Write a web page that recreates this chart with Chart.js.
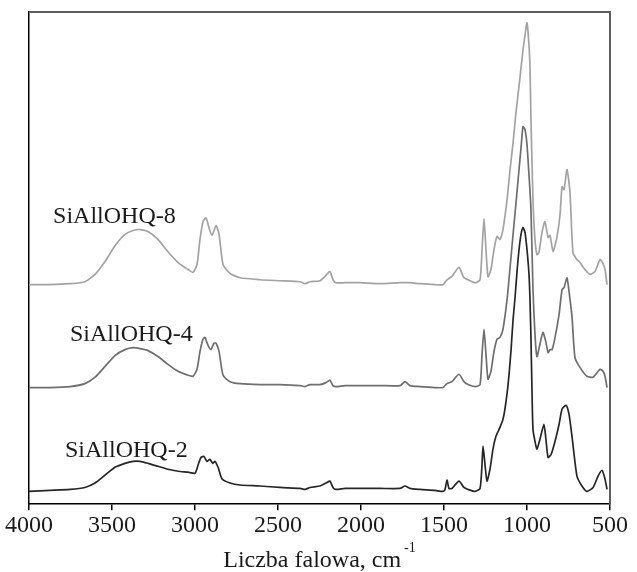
<!DOCTYPE html>
<html>
<head>
<meta charset="utf-8">
<script src="https://cdn.jsdelivr.net/npm/chart.js@4"></script>
<style>
  html, body { margin: 0; padding: 0; background: #fff; }
  #wrap { width: 637px; height: 572px; }
</style>
</head>
<body>
<div id="wrap"><canvas id="chart" width="637" height="572"></canvas></div>
<script>
// FTIR spectra, wavenumber (cm-1) vs absorbance (arbitrary, stacked)

const seriesNames = ['SiAllOHQ-8', 'SiAllOHQ-4', 'SiAllOHQ-2'];
const seriesColors = ['#a3a3a3', '#6e6e6e', '#262626'];

const wn8 = [4000, 3873, 3753, 3663, 3602, 3542, 3482, 3422, 3373, 3331, 3283, 3223, 3163, 3102, 3042, 3012,
    2988, 2970, 2952, 2934, 2916, 2898, 2873, 2855, 2831, 2789, 2729, 2608, 2488, 2367, 2337, 2307, 2247, 2211,
    2187, 2169, 2151, 2096, 2006, 1886, 1765, 1705, 1645, 1554, 1506, 1482, 1452, 1410, 1380, 1355, 1313, 1283,
    1271, 1259, 1247, 1235, 1217, 1199, 1181, 1163, 1145, 1120, 1102, 1084, 1066, 1054, 1042, 1024, 1012, 1000,
    988, 982, 976, 964, 952, 940, 928, 910, 892, 873, 861, 843, 819, 801, 789, 777, 759, 741, 723, 699, 681, 651,
    620, 590, 560, 542, 530, 518];
const abs8 = [0.446, 0.446, 0.448, 0.452, 0.467, 0.493, 0.525, 0.548, 0.556, 0.558, 0.554, 0.538, 0.513, 0.491, 0.477, 0.471,
    0.487, 0.538, 0.574, 0.582, 0.562, 0.546, 0.566, 0.548, 0.487, 0.469, 0.460, 0.456, 0.454, 0.452, 0.448, 0.452, 0.454, 0.465,
    0.473, 0.456, 0.450, 0.450, 0.450, 0.448, 0.450, 0.450, 0.448, 0.446, 0.446, 0.456, 0.463, 0.481, 0.460, 0.456, 0.450, 0.456,
    0.517, 0.580, 0.517, 0.462, 0.477, 0.517, 0.544, 0.538, 0.558, 0.619, 0.680, 0.734, 0.797, 0.832, 0.868, 0.923, 0.953, 0.978,
    0.933, 0.888, 0.781, 0.619, 0.538, 0.507, 0.511, 0.552, 0.574, 0.542, 0.546, 0.513, 0.544, 0.588, 0.645, 0.639, 0.680, 0.633,
    0.511, 0.497, 0.491, 0.477, 0.467, 0.473, 0.497, 0.489, 0.477, 0.446];

const wn4 = [4000, 3873, 3753, 3663, 3602, 3542, 3482, 3422, 3373, 3331, 3283, 3223, 3163, 3102, 3042, 3012,
    2988, 2970, 2952, 2940, 2922, 2904, 2886, 2873, 2855, 2831, 2789, 2729, 2608, 2488, 2367, 2337, 2307, 2247,
    2211, 2187, 2169, 2151, 2096, 2006, 1886, 1765, 1735, 1705, 1645, 1554, 1506, 1482, 1452, 1410, 1380, 1355,
    1313, 1283, 1271, 1259, 1247, 1235, 1217, 1199, 1181, 1163, 1145, 1120, 1102, 1084, 1066, 1048, 1036, 1024,
    1012, 1000, 988, 976, 964, 952, 940, 922, 904, 886, 873, 861, 849, 831, 807, 789, 777, 759, 741, 729, 711,
    681, 639, 602, 560, 542, 530, 518];
const abs4 = [0.237, 0.237, 0.239, 0.245, 0.258, 0.280, 0.302, 0.314, 0.318, 0.316, 0.312, 0.300, 0.284, 0.270, 0.262, 0.260,
    0.274, 0.310, 0.335, 0.339, 0.323, 0.314, 0.327, 0.327, 0.310, 0.262, 0.249, 0.245, 0.243, 0.243, 0.241, 0.239, 0.243, 0.243,
    0.247, 0.252, 0.241, 0.239, 0.241, 0.241, 0.241, 0.241, 0.249, 0.241, 0.239, 0.237, 0.237, 0.245, 0.249, 0.264, 0.249, 0.243,
    0.239, 0.243, 0.304, 0.355, 0.304, 0.254, 0.270, 0.310, 0.335, 0.339, 0.355, 0.416, 0.481, 0.548, 0.613, 0.680, 0.724, 0.767,
    0.761, 0.730, 0.669, 0.598, 0.436, 0.345, 0.300, 0.325, 0.349, 0.329, 0.308, 0.314, 0.314, 0.339, 0.385, 0.436, 0.440, 0.460,
    0.416, 0.381, 0.298, 0.278, 0.260, 0.258, 0.274, 0.270, 0.260, 0.237];

const wn2 = [4000, 3873, 3753, 3663, 3602, 3542, 3482, 3422, 3373, 3331, 3283, 3223, 3163, 3102, 3042, 3000,
    2982, 2964, 2946, 2928, 2910, 2892, 2880, 2861, 2837, 2789, 2729, 2608, 2488, 2367, 2337, 2307, 2247, 2211,
    2187, 2169, 2151, 2096, 2006, 1886, 1765, 1735, 1705, 1645, 1554, 1506, 1494, 1482, 1470, 1452, 1410, 1380,
    1355, 1313, 1283, 1271, 1265, 1253, 1241, 1223, 1205, 1187, 1163, 1145, 1133, 1114, 1096, 1084, 1072, 1060,
    1048, 1036, 1024, 1012, 1000, 988, 982, 976, 970, 964, 952, 940, 922, 898, 886, 873, 855, 831, 807, 789, 765,
    747, 729, 699, 669, 639, 602, 572, 548, 530, 518];
const abs2 = [0.026, 0.028, 0.030, 0.034, 0.043, 0.059, 0.075, 0.083, 0.087, 0.087, 0.083, 0.077, 0.071, 0.067, 0.065, 0.063,
    0.079, 0.095, 0.097, 0.087, 0.091, 0.083, 0.087, 0.075, 0.051, 0.043, 0.039, 0.037, 0.034, 0.032, 0.030, 0.034, 0.037, 0.043,
    0.047, 0.034, 0.030, 0.032, 0.032, 0.032, 0.032, 0.037, 0.032, 0.030, 0.028, 0.026, 0.030, 0.049, 0.032, 0.032, 0.047, 0.034,
    0.030, 0.026, 0.032, 0.081, 0.118, 0.081, 0.047, 0.071, 0.112, 0.138, 0.156, 0.172, 0.193, 0.243, 0.314, 0.375, 0.420, 0.473,
    0.517, 0.548, 0.562, 0.552, 0.517, 0.467, 0.416, 0.335, 0.233, 0.152, 0.128, 0.112, 0.132, 0.162, 0.132, 0.095, 0.101, 0.128,
    0.162, 0.193, 0.201, 0.183, 0.138, 0.057, 0.037, 0.026, 0.034, 0.057, 0.069, 0.051, 0.030];

// where the series names sit (left edge wavenumber, baseline absorbance)
const labelWn = [3855, 3753, 3783];
const labelAbs = [0.572, 0.331, 0.095];

const xTicks = [4000, 3500, 3000, 2500, 2000, 1500, 1000, 500];

const serif = "'Liberation Serif', 'Times New Roman', serif";

const toPoints = (wn, ab) => wn.map((w, i) => ({ x: w, y: ab[i] }));

const frame = {
    id: 'frame',
    afterDatasetsDraw(chart) {
        const { ctx, chartArea: a } = chart;
        ctx.save();
        ctx.strokeStyle = '#5c5c5c';
        ctx.lineWidth = 2;
        ctx.beginPath();
        ctx.moveTo(a.left, a.top);
        ctx.lineTo(a.right, a.top);
        ctx.lineTo(a.right, a.bottom);
        ctx.stroke();
        ctx.restore();
    }
};

const seriesLabels = {
    id: 'seriesLabels',
    afterDraw(chart) {
        const { ctx, scales } = chart;
        ctx.save();
        ctx.font = '24px ' + serif;
        ctx.fillStyle = '#1a1a1a';
        ctx.textAlign = 'left';
        ctx.textBaseline = 'alphabetic';
        for (let i = 0; i < seriesNames.length; i++) {
            ctx.fillText(seriesNames[i], scales.x.getPixelForValue(labelWn[i]), scales.y.getPixelForValue(labelAbs[i]));
        }
        ctx.restore();
    }
};

const axisTitle = {
    id: 'axisTitle',
    afterDraw(chart) {
        const { ctx, chartArea: a } = chart;
        const main = 'Liczba falowa, cm';
        const sup = '-1';
        ctx.save();
        ctx.fillStyle = '#1a1a1a';
        ctx.textBaseline = 'alphabetic';
        ctx.font = '24px ' + serif;
        const w1 = ctx.measureText(main).width;
        ctx.font = '14px ' + serif;
        const w2 = ctx.measureText(sup).width;
        const x0 = (a.left + a.right) / 2 - (w1 + w2 + 3) / 2;
        ctx.textAlign = 'left';
        ctx.font = '24px ' + serif;
        ctx.fillText(main, x0, 567);
        ctx.font = '14px ' + serif;
        ctx.fillText(sup, x0 + w1 + 3, 552);
        ctx.restore();
    }
};

new Chart(document.getElementById('chart').getContext('2d'), {
    type: 'scatter',
    data: {
        datasets: [
            { label: seriesNames[0], data: toPoints(wn8, abs8), borderColor: seriesColors[0] },
            { label: seriesNames[1], data: toPoints(wn4, abs4), borderColor: seriesColors[1] },
            { label: seriesNames[2], data: toPoints(wn2, abs2), borderColor: seriesColors[2] },
        ].map(d => Object.assign(d, {
            showLine: true,
            pointRadius: 0,
            borderWidth: 1.7,
            tension: 0.2,
            fill: false
        }))
    },
    options: {
        responsive: false,
        devicePixelRatio: 1,
        animation: false,
        layout: { padding: { left: 29, right: 27, top: 12, bottom: 31 } },
        plugins: {
            legend: { display: false },
            tooltip: { enabled: false }
        },
        scales: {
            x: {
                type: 'linear',
                reverse: true,
                min: 500,
                max: 4000,
                afterBuildTicks: axis => { axis.ticks = xTicks.map(v => ({ value: v })); },
                ticks: {
                    color: '#1a1a1a',
                    font: { family: serif, size: 24 },
                    padding: 1,
                    maxRotation: 0,
                    autoSkip: false,
                    callback: v => String(v)
                },
                grid: { drawOnChartArea: false, tickLength: 6, color: '#000', lineWidth: 1.5 },
                border: { color: '#000', width: 1.5 }
            },
            y: {
                min: 0,
                max: 1,
                ticks: { display: false },
                grid: { display: false, drawTicks: false },
                border: { color: '#000', width: 1.5 }
            }
        }
    },
    plugins: [frame, seriesLabels, axisTitle]
});
</script>
</body>
</html>
